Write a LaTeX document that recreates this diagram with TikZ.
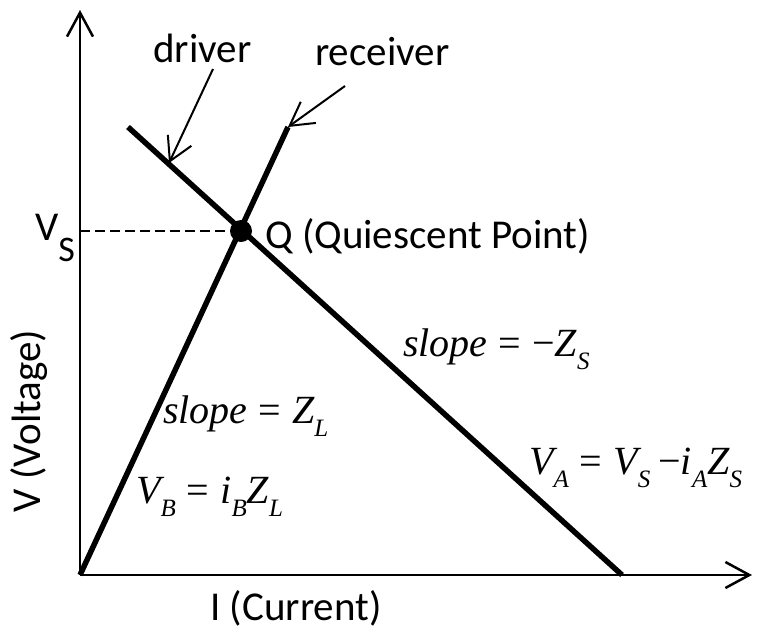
\documentclass[tikz,border=0pt]{standalone}
\usepackage{fontspec}
\setmainfont{Carlito}
\newfontfamily\tms{Liberation Serif}
\usetikzlibrary{arrows.meta}
\newcommand\sbx[1]{\raisebox{-13pt}{\fontsize{25}{25}\selectfont #1}}
\newcommand\eqsign{\hspace{11pt}{\upshape =}\hspace{11pt}}
\newcommand\minsign{{\upshape −}}
\begin{document}
\begin{tikzpicture}[x=1pt,y=-1pt,
  lab/.style={font=\fontsize{41}{48}\selectfont, inner sep=0pt},
  mth/.style={font=\fontsize{40}{46}\selectfont\tms\itshape, inner sep=0pt, anchor=base west},
  axis/.style={line width=2.5pt, -{Straight Barb[length=24pt,width=26pt,line width=2.5pt]}},
  ann/.style={line width=2pt, -{Straight Barb[length=23pt,width=26pt,line width=2pt]}},
  curve/.style={line width=5.5pt},
  qdot/.style={circle, fill=black, minimum size=22pt, inner sep=0pt}
]
\useasboundingbox (0,0) rectangle (760,632);
% axes
\coordinate (O) at (80,575);
\coordinate (Ytop) at (80,10);
\coordinate (Xend) at (752,575);
\draw[axis] (O) -- (Ytop);
\draw[axis] (O) -- (Xend);
% lines
\coordinate (D1) at (128,127);
\coordinate (D2) at (622,575);
\coordinate (R2) at (288,127);
\draw[curve] (D1) -- (D2);
\draw[curve] (O) -- (R2);
% Q point
\node[qdot] (Q) at (241,231) {};
\coordinate (VSy) at (80,231);
\draw[line width=2pt, dash pattern=on 10pt off 5pt] (VSy) -- (Q);
% labels
\node[lab, anchor=base west] (vs) at (35,240) {V\raisebox{-21pt}{\fontsize{36}{36}\selectfont S}};
\node[lab, anchor=base west] (qlab) at (265,248) {Q (Quiescent Point)};
\node[lab, anchor=base west] (drv) at (153,62) {driver};
\node[lab, anchor=base west] (rcv) at (315,65) {receiver};
\node[lab, rotate=90, anchor=base] (ylab) at (40,421) {V (Voltage)};
\node[lab, anchor=base] (xlab) at (296,620) {I (Current)};
% annotation arrows
\coordinate (da) at (213,69);
\coordinate (dt) at (169,163);
\draw[ann] (da) -- (dt);
\coordinate (ra) at (345,86);
\draw[ann] (ra) -- (R2);
% equations
\node[mth] (eq1) at (403,356) {slope\eqsign\minsign Z\sbx{S}};
\node[mth] (eq2) at (163,423) {slope\eqsign Z\sbx{L}};
\node[mth] (eq3) at (136,503) {V\sbx{B}\eqsign i\sbx{B}Z\sbx{L}};
\node[mth] (eq4) at (529,474) {V\sbx{A}\eqsign V\sbx{S}\hspace{8pt}\minsign i\sbx{A}Z\sbx{S}};
\end{tikzpicture}
\end{document}
